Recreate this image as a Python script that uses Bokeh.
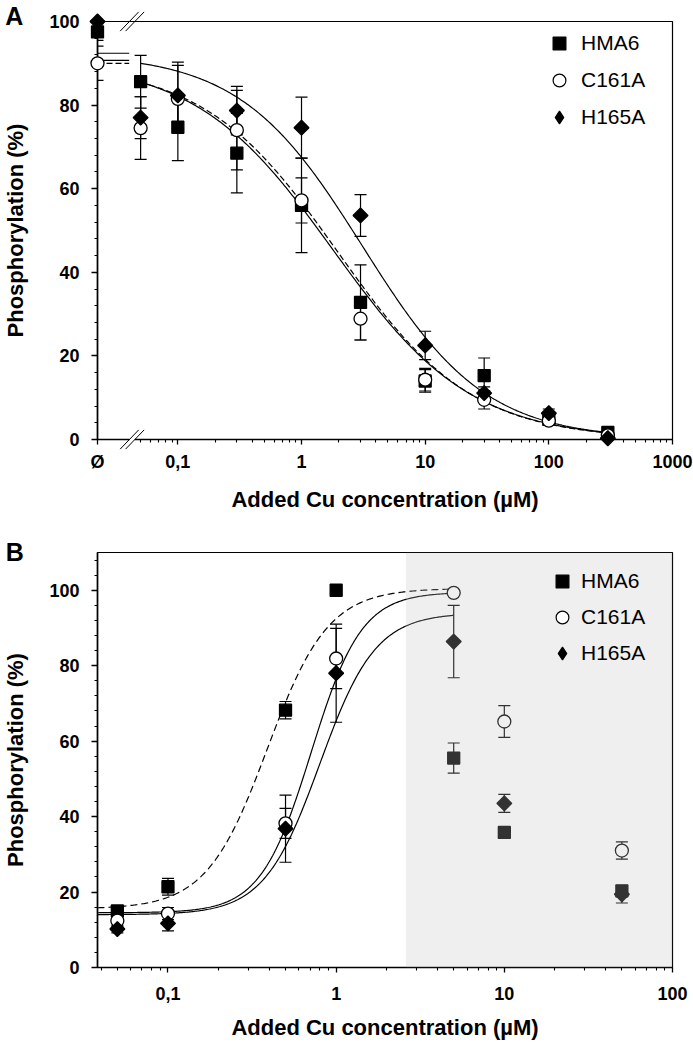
import numpy as np
from bokeh.plotting import figure
from bokeh.models import (ColumnDataSource, Whisker, TeeHead, FixedTicker, SingleIntervalTicker,
                          Legend, LegendItem, BoxAnnotation, Range1d)
from bokeh.layouts import column
from bokeh.embed import file_html
from bokeh.resources import INLINE
from bokeh.core.properties import value

FONT = "Liberation Sans"

# ---------------- Panel A data ----------------
series_names = ["HMA6", "C161A", "H165A"]
conc_a = [0.0, 0.05, 0.1, 0.3, 1, 3, 10, 30, 100, 300]      # 0.0 = no added Cu (Ø)
hma6_a = [97.5, 85.6, 74.7, 68.5, 56.0, 32.8, 14.0, 15.3, 4.8, 1.7]
hma6_a_err = [2.0, 6.3, 8.0, 9.5, 11.3, 9.0, 2.7, 4.2, 0.8, 0.5]
c161a_a = [90.0, 74.5, 81.5, 74.0, 57.2, 28.9, 14.3, 9.5, 4.5, 1.0]
c161a_a_err = [4.1, 7.5, 8.0, 9.5, 5.4, 5.1, 2.7, 2.2, 0.8, 0.5]
h165a_a = [100.0, 77.0, 82.3, 78.7, 74.6, 53.6, 22.5, 11.1, 6.3, 0.3]
h165a_a_err = [0.0, 5.0, 8.0, 5.8, 7.3, 5.0, 3.4, 1.5, 1.0, 0.5]
tick_a = [0.0, 0.1, 1, 10, 100, 1000]
tick_a_labels = ["Ø", "0,1", "1", "10", "100", "1000"]
# fitted dose-response parameters (panel A, decreasing)
fit_a_top = [90.0, 90.7, 92.4]
fit_a_ic50 = [1.95, 1.80, 3.12]
fit_a_hill = [0.80, 0.78, 0.877]

# ---------------- Panel B data ----------------
conc_b = [0.05, 0.1, 0.5, 1, 5, 10, 50]
hma6_b = [15.0, 21.4, 68.2, 100.0, 55.5, 35.8, 20.3]
hma6_b_err = [1.0, 2.2, 2.3, 0.0, 4.0, 1.0, 1.5]
c161a_b = [12.4, 14.3, 38.2, 81.9, 99.3, 65.2, 31.0]
c161a_b_err = [1.5, 1.6, 4.0, 8.0, 0.5, 4.2, 2.3]
h165a_b = [10.2, 11.7, 36.8, 78.0, 86.4, 43.5, 19.4]
h165a_b_err = [1.0, 2.0, 8.9, 13.0, 9.6, 2.4, 2.3]
tick_b = [0.1, 1, 10, 100]
tick_b_labels = ["0,1", "1", "10", "100"]
# fitted dose-response parameters (panel B, increasing)
fit_b_bottom = [15.5, 14.5, 14.0]
fit_b_top = [100.5, 99.5, 94.0]
fit_b_ec50 = [0.39, 0.71, 0.80]
fit_b_hill = [2.4, 2.9, 2.62]
fit_b_end = 5.0
shade_from = 2.6

panel_letters = ["A", "B"]

# ---------------- layout / style constants ----------------
X_ZERO = 0.0224          # where "Ø" sits (left end of the log axis in A)
A_XR = (X_ZERO, 1000)
B_XR = (0.0381, 100)
BREAK_X = 0.0427
ZERO_SEG_END = 0.0404
MARK = {
    "HMA6": dict(marker="square", size=12, fill_color="black", angle=0.0),
    "C161A": dict(marker="circle", size=13, fill_color="white", angle=0.0),
    "H165A": dict(marker="square", size=10.5, fill_color="black", angle=np.pi / 4),
}
LEGEND_MARK = {"HMA6": "square", "C161A": "circle", "H165A": "diamond"}
DASH = {"HMA6": "6 3", "C161A": "solid", "H165A": "solid"}
DASH_B = {"HMA6": "7 4", "C161A": "solid", "H165A": "solid"}


def base_fig(height, xr, yr, mbl, mbt, mbb, ticks, labels, minor, tick_standoff):
    p = figure(width=693, height=height, x_axis_type="log",
               x_range=Range1d(*xr), y_range=Range1d(*yr),
               output_backend="svg", toolbar_location=None,
               min_border_left=mbl, min_border_right=21,
               min_border_top=mbt, min_border_bottom=mbb)
    p.grid.visible = False
    p.outline_line_color = "black"
    p.outline_line_width = 1.2
    p.outline_line_alpha = 1
    for ax in (p.xaxis, p.yaxis):
        ax.axis_line_width = 1.6
        ax.axis_line_color = "black"
        ax.major_tick_line_color = "black"
        ax.minor_tick_line_color = "black"
        ax.major_tick_line_width = 1.3
        ax.minor_tick_line_width = 1.1
        ax.major_tick_in = 0
        ax.minor_tick_in = 0
        ax.major_label_text_font = FONT
        ax.major_label_text_font_size = "18px"
        ax.major_label_text_font_style = "bold"
        ax.major_label_text_color = "black"
        ax.axis_label_text_font = FONT
        ax.axis_label_text_font_size = "22px"
        ax.axis_label_text_font_style = "bold"
        ax.axis_label_text_color = "black"
    p.xaxis.major_tick_out = 5
    p.xaxis.minor_tick_out = 3
    p.yaxis.major_tick_out = 6
    p.yaxis.minor_tick_out = 3
    p.xaxis.major_label_standoff = tick_standoff
    p.yaxis.major_label_standoff = 12
    p.xaxis.axis_label_standoff = 12
    p.yaxis.axis_label_standoff = 18
    p.yaxis.ticker = SingleIntervalTicker(interval=20, num_minor_ticks=5)
    p.xaxis.ticker = FixedTicker(ticks=ticks, minor_ticks=minor)
    p.xaxis.major_label_overrides = {t: l for t, l in zip(ticks, labels)}
    p.xaxis.axis_label = "Added Cu concentration (µM)"
    p.yaxis.axis_label = "Phosphorylation (%)"
    return p


def minor_list(first_decade, last_decade):
    out = []
    for e in range(first_decade, last_decade + 1):
        for m in range(2, 10):
            out.append(m * 10.0 ** e)
    return out


def add_legend(p, xs, vals, loc, spacing, standoff, level):
    items = []
    for name in series_names:
        # legend proxy (zero-size in the plot, drawn only as the legend glyph)
        r = p.scatter(xs, vals[name][0], marker=LEGEND_MARK[name], size=0,
                      fill_color=MARK[name]["fill_color"], line_color="black",
                      line_width=1.2)
        items.append(LegendItem(label=name, renderers=[r]))
    leg = Legend(items=items, location=loc, orientation="vertical",
                 glyph_width=32, glyph_height=32, spacing=spacing, padding=0, margin=0,
                 label_standoff=standoff, border_line_alpha=0, background_fill_alpha=0,
                 label_text_font=FONT, label_text_font_size="21px",
                 label_text_color="black", level=level)
    p.add_layout(leg)


def add_letter(p, x, y, letter):
    p.text(x=[x], y=[y], text=[letter], text_font=value(FONT), text_font_size="25px",
           text_font_style="bold", text_baseline="top", text_align="left",
           text_color="black", level="overlay")


# ================= Panel A =================
ticks_a = [X_ZERO if t == 0 else t for t in tick_a]
minor_a = [m * 0.01 for m in range(5, 10)] + minor_list(-1, 2)
pa = base_fig(520, A_XR, (0, 100), 93, 21, 81, ticks_a, tick_a_labels, minor_a, 7)

xa = [X_ZERO if c == 0 else c for c in conc_a]
vals_a = {"HMA6": (hma6_a, hma6_a_err), "C161A": (c161a_a, c161a_a_err), "H165A": (h165a_a, h165a_a_err)}

xc = np.logspace(np.log10(0.05), np.log10(300), 300)
for i, name in enumerate(series_names):
    top, ic, hh = fit_a_top[i], fit_a_ic50[i], fit_a_hill[i]
    yc = top / (1.0 + (xc / ic) ** hh)
    pa.line(xc, yc, line_color="black", line_width=1.2, line_dash=DASH[name])
    pa.segment(x0=[X_ZERO], y0=[top], x1=[ZERO_SEG_END], y1=[top],
               line_color="black", line_width=1.2, line_dash=DASH[name])

# axis-break marks
dec_w, dec_off = 0.075, 0.022
pa.segment(x0=[BREAK_X * 10 ** -dec_off], y0=[0], x1=[BREAK_X * 10 ** dec_off], y1=[0],
           line_color="white", line_width=4, level="overlay")
for yb in (0, 100):
    for off in (-dec_off, dec_off):
        pa.segment(x0=[BREAK_X * 10 ** (off - dec_w)], y0=[yb - 2.3],
                   x1=[BREAK_X * 10 ** (off + dec_w)], y1=[yb + 2.3],
                   line_color="black", line_width=1.0, level="overlay")

for name in series_names:
    y, e = vals_a[name]
    keep = [i for i in range(len(xa)) if e[i] > 0]
    wsrc = ColumnDataSource(dict(x=[xa[i] for i in keep],
                                 lo=[y[i] - e[i] for i in keep],
                                 hi=[y[i] + e[i] for i in keep]))
    pa.add_layout(Whisker(source=wsrc, base="x", lower="lo", upper="hi", line_color="black",
                          line_width=1.2, level="annotation",
                          upper_head=TeeHead(size=12, line_color="black", line_width=1.2),
                          lower_head=TeeHead(size=12, line_color="black", line_width=1.2)))
for name in series_names:
    y, e = vals_a[name]
    m = MARK[name]
    pa.scatter(xa, y, marker=m["marker"], size=m["size"], angle=m["angle"],
               fill_color=m["fill_color"], line_color="black", line_width=1.3,
               level="overlay")

add_legend(pa, xa, vals_a, (446, 306), 5, 6, "annotation")
add_letter(pa, X_ZERO * 10 ** (-93 / 124.5), 104.6, panel_letters[0])

# ================= Panel B =================
minor_b = minor_list(-2, 1)
pb = base_fig(522, B_XR, (0, 110), 95, 32, 75, tick_b, tick_b_labels, minor_b, 14)
vals_b = {"HMA6": (hma6_b, hma6_b_err), "C161A": (c161a_b, c161a_b_err), "H165A": (h165a_b, h165a_b_err)}

xcb = np.logspace(np.log10(B_XR[0]), np.log10(fit_b_end), 300)
for i, name in enumerate(series_names):
    b, t, ec, hh = fit_b_bottom[i], fit_b_top[i], fit_b_ec50[i], fit_b_hill[i]
    yc = b + (t - b) / (1.0 + (ec / xcb) ** hh)
    pb.line(xcb, yc, line_color="black", line_width=1.2, line_dash=DASH_B[name])

for name in series_names:
    y, e = vals_b[name]
    keep = [i for i in range(len(conc_b)) if e[i] > 0]
    wsrc = ColumnDataSource(dict(x=[conc_b[i] for i in keep],
                                 lo=[y[i] - e[i] for i in keep],
                                 hi=[y[i] + e[i] for i in keep]))
    pb.add_layout(Whisker(source=wsrc, base="x", lower="lo", upper="hi", line_color="black",
                          line_width=1.2, level="underlay",
                          upper_head=TeeHead(size=12, line_color="black", line_width=1.2),
                          lower_head=TeeHead(size=12, line_color="black", line_width=1.2)))
for name in series_names:
    y, e = vals_b[name]
    m = MARK[name]
    pb.scatter(conc_b, y, marker=m["marker"], size=m["size"], angle=m["angle"],
               fill_color=m["fill_color"], line_color="black", line_width=1.3)

pb.add_layout(BoxAnnotation(left=shade_from, fill_color="#c2c2c2", fill_alpha=0.26,
                            line_alpha=0, level="overlay"))
add_legend(pb, conc_b, vals_b, (449, 298), 4, 3, "overlay")
add_letter(pb, B_XR[0] * 10 ** (-92 / 168.7), 113.9, panel_letters[1])

layout = column(pa, pb)
open("out.html", "w").write(file_html(layout, INLINE))
